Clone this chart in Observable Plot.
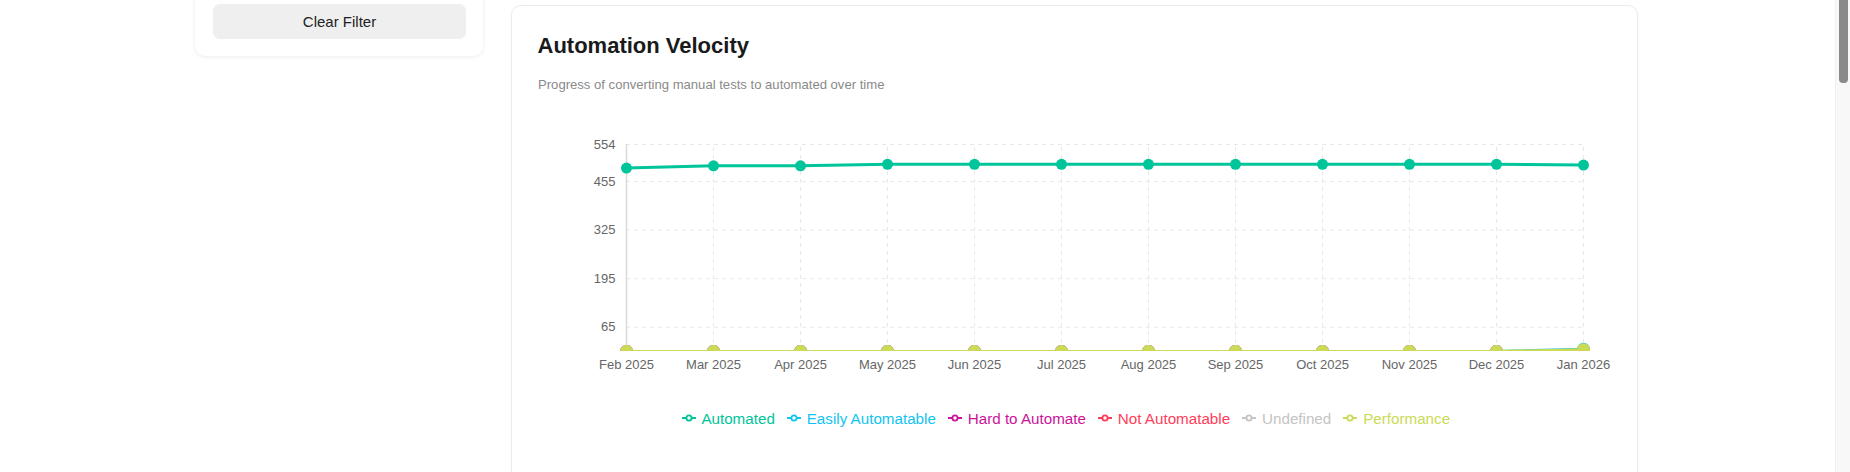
<!DOCTYPE html>
<html>
<head>
<meta charset="utf-8">
<script src="https://cdn.jsdelivr.net/npm/d3@7"></script>
<script src="https://cdn.jsdelivr.net/npm/@observablehq/plot@0.6"></script>
<style>
  html, body { margin: 0; padding: 0; background: #ffffff; overflow: hidden; width: 1850px; height: 472px; }
  body { font-family: "Liberation Sans", Arial, Helvetica, sans-serif; position: relative; }
  .side-card { position: absolute; left: 195px; top: -120px; width: 288px; height: 176px; background: #fff;
    border-radius: 10px; box-shadow: 0 1px 4px rgba(0,0,0,0.08); }
  .btn { position: absolute; left: 213px; top: 4px; width: 253px; height: 35px; background: #efefef; border-radius: 7px;
    font-size: 15px; color: #222; display: flex; align-items: center; justify-content: center; }
  .main-card { position: absolute; left: 511px; top: 5px; width: 1125px; height: 600px; background: #fff;
    border: 1px solid #ececec; border-radius: 10px; box-shadow: 0 1px 3px rgba(0,0,0,0.04); }
  .title { position: absolute; left: 537.5px; top: 32.6px; font-size: 22px; line-height: 26px; font-weight: bold; color: #1a1a1a; white-space: nowrap; }
  .subtitle { position: absolute; left: 538px; top: 76.8px; font-size: 13.1px; line-height: 16px; color: #8a8a8a; white-space: nowrap; }
  #chart { position: absolute; left: 540px; top: 110px; }
  #legend { position: absolute; left: 681.7px; top: 409.5px; display: flex; align-items: center; white-space: nowrap; font-size: 15.2px; line-height: 17px; }
  .item { display: flex; align-items: center; margin-right: 12.2px; }
  .item svg { margin-right: 5.7px; }
  .track { position: absolute; left: 1835px; top: 0; width: 15px; height: 472px; background: #f8f8f8; border-left: 1px solid #f0f0f0; }
  .thumb { position: absolute; left: 1839px; top: 0; width: 8.5px; height: 83px; background: #8a8a8a; border-radius: 0 0 4px 4px; }
</style>
</head>
<body>
<div class="side-card"></div>
<div class="btn">Clear Filter</div>
<div class="main-card"></div>
<div class="title">Automation Velocity</div>
<div class="subtitle">Progress of converting manual tests to automated over time</div>
<div id="chart"></div>
<div id="legend"></div>
<div class="track"></div>
<div class="thumb"></div>
<script>
// ---- data ----
const months = ["Feb 2025", "Mar 2025", "Apr 2025", "May 2025", "Jun 2025", "Jul 2025",
                "Aug 2025", "Sep 2025", "Oct 2025", "Nov 2025", "Dec 2025", "Jan 2026"];
const seriesNames = ["Automated", "Easily Automatable", "Hard to Automate", "Not Automatable", "Undefined", "Performance"];
const seriesColors = ["#00c49a", "#12c4f0", "#c9159a", "#ff3d5a", "#c4c4c4", "#cbdb55"];
const automated         = [491, 497, 497, 501, 501, 501, 501, 501, 501, 501, 501, 499];
const easilyAutomatable = [0, 0, 0, 0, 0, 0, 0, 0, 0, 0, 0, 6];
const hardToAutomate    = [0, 0, 0, 0, 0, 0, 0, 0, 0, 0, 0, 0];
const notAutomatable    = [0, 0, 0, 0, 0, 0, 0, 0, 0, 0, 0, 0];
const undefinedTests    = [0, 0, 0, 0, 0, 0, 0, 0, 0, 0, 0, 0];
const performance       = [0, 0, 0, 0, 0, 0, 0, 0, 0, 0, 0, 5];
const yTicks = [65, 195, 325, 455, 554];
const yMax = 554;

const seriesValues = [automated, easilyAutomatable, hardToAutomate, notAutomatable, undefinedTests, performance];
const table = [];
seriesNames.forEach((name, i) => {
  months.forEach((m, j) => table.push({month: m, series: name, value: seriesValues[i][j]}));
});

const first = months[0], last = months[months.length - 1];
const grid = "#e8e8e8";

const chart = Plot.plot({
  width: 1080,
  height: 271,
  marginLeft: 72,
  marginRight: 24,
  marginTop: 34,
  marginBottom: 30,
  style: {fontFamily: '"Liberation Sans", Arial, sans-serif', fontSize: "13px", color: "#666", background: "transparent"},
  x: {type: "point", domain: months, padding: 0, insetLeft: 12, insetRight: 12, label: null},
  y: {domain: [0, yMax], label: null},
  color: {domain: seriesNames, range: seriesColors},
  marks: [
    Plot.ruleY(yTicks, {x1: () => first, x2: () => last, stroke: grid, strokeWidth: 1, strokeDasharray: "4 4"}),
    Plot.ruleX(months, {y1: () => 0, y2: () => yMax, stroke: grid, strokeWidth: 1, strokeDasharray: "4 4"}),
    Plot.ruleX([first], {y1: () => 0, y2: () => yMax, stroke: "#d8d8d8", strokeWidth: 1.5}),
    Plot.axisY({ticks: yTicks, tickSize: 0, tickPadding: 0, dx: 3, fill: "#666", fontSize: 13}),
    Plot.axisX({tickSize: 0, tickPadding: 8.5, fill: "#666", fontSize: 13}),
    Plot.line(table, {x: "month", y: "value", z: "series", stroke: "series", strokeWidth: 3, clip: "frame"}),
    Plot.dot(table, {filter: d => d.series === seriesNames[0], x: "month", y: "value", fill: "series", r: 5.5, clip: "frame"}),
    Plot.dot(table, {filter: d => d.series !== seriesNames[0], x: "month", y: "value", fill: "series", r: 6.5, clip: "frame"})
  ]
});
document.getElementById("chart").appendChild(chart);

// ---- legend ----
const legend = document.getElementById("legend");
seriesNames.forEach((name, i) => {
  const c = seriesColors[i];
  const item = document.createElement("div");
  item.className = "item";
  item.innerHTML = `<svg width="14" height="14" viewBox="0 0 14 14">
      <path d="M0,7H4.4M9.6,7H14" stroke="${c}" stroke-width="1.8" fill="none"/>
      <circle cx="7" cy="7" r="2.6" stroke="${c}" stroke-width="1.8" fill="none"/></svg>
    <span style="color:${c}">${name}</span>`;
  legend.appendChild(item);
});
</script>
</body>
</html>
